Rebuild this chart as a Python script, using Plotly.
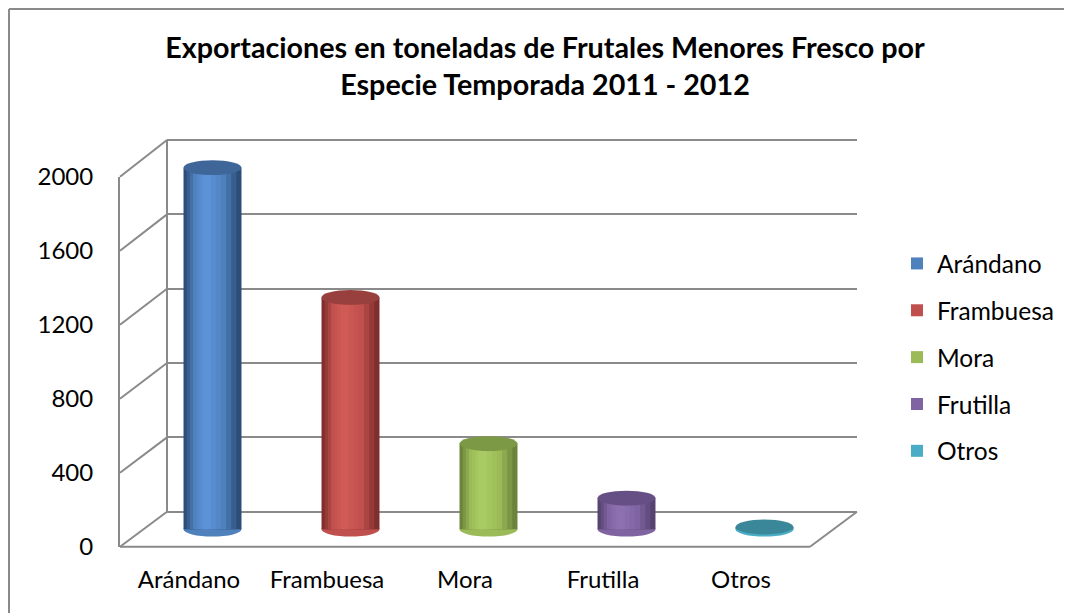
import plotly.graph_objects as go

# ---------------- data ----------------
categories = ["Arándano", "Frambuesa", "Mora", "Frutilla", "Otros"]
values = [1950, 1250, 462, 168, 12]
y_ticks = [0, 400, 800, 1200, 1600, 2000]
title_lines = ["Exportaciones en toneladas de Frutales Menores Fresco por",
               "Especie Temporada 2011 - 2012"]

# colour styles (edge, standard, highlight, top cap)
base_colors = ["#4F81BD", "#C0504D", "#9BBB59", "#8064A2", "#4BACC6"]
edge_colors = ["#2C4D78", "#7E2F2D", "#6B8439", "#56436F", "#2F7F95"]
light_colors = ["#5C92D8", "#D05A56", "#A9CB63", "#8C70B0", "#58BCD8"]
top_colors = ["#3E6698", "#98403D", "#7C9A45", "#654F85", "#3A8799"]

# ---------------- geometry (page pixels) ----------------
OFF = 8                      # default body margin of the html page
W, H = 1072 - OFF, 613 - OFF
FX0, FX1 = 120, 810          # front plane x extent
BX0, BX1 = 167, 857          # back wall x extent
FY0, FTOP = 546.7, 176.7     # front 0 / 2000
BY0, BTOP = 511.7, 140.0     # back 0 / 2000
MX0, MX1 = 143.5, 833.5      # mid-depth x extent
MY0 = 529.2
MSCALE = 0.1854              # px per unit (mid depth)
YMIN, YMAX = -200, 2200
BPAD = 50                    # back wall axis padding so edge gridlines draw

def px(x):
    return (x - OFF) / W

def py(y):
    return 1 - (y - OFF) / H

def front_y(v):
    return FY0 + (FTOP - FY0) * v / 2000.0

def back_y(v):
    return BY0 + (BTOP - BY0) * v / 2000.0

GRAY = "#8A8A8A"
FONT = "Lato"

fig = go.Figure()

# empty traces so the frame subplots are created
fig.add_trace(go.Scatter(x=[], y=[], xaxis="x", yaxis="y", showlegend=False, hoverinfo="skip"))
fig.add_trace(go.Scatter(x=[], y=[], xaxis="x2", yaxis="y2", showlegend=False, hoverinfo="skip"))

# ---------------- cylinders (banded bars for shading) ----------------
BW = 0.42
NB = 7

def mix(c1, c2, t):
    a = [int(c1[i:i + 2], 16) for i in (1, 3, 5)]
    b = [int(c2[i:i + 2], 16) for i in (1, 3, 5)]
    return "rgb(%d,%d,%d)" % tuple(round(a[j] + (b[j] - a[j]) * t) for j in range(3))

for k, (cat, v) in enumerate(zip(categories, values)):
    for i in range(NB):
        t = i / (NB - 1)
        if t <= 0.5:
            col = mix(edge_colors[k], base_colors[k], t / 0.5)
        else:
            col = mix(base_colors[k], light_colors[k], (t - 0.5) / 0.5)
        wi = BW * (1 - i / NB)
        shift = -0.12 * BW * (i / NB)
        fig.add_trace(go.Bar(
            x=[cat], y=[v], xaxis="x3", yaxis="y3",
            width=[wi], offset=[shift - wi / 2],
            marker=dict(color=base_colors[k] if i == NB // 2 else col, line=dict(width=0)),
            name=cat, legendgroup=cat, showlegend=(i == NB // 2),
            legendrank=k + 1, hoverinfo="skip",
        ))

# cylinder caps (ellipses) in data coordinates
HCAP = 40  # half height of caps in value units
shapes = []
for k, v in enumerate(values):
    shapes.append(dict(type="circle", xref="x3", yref="y3", layer="below",
                       x0=k - BW / 2, x1=k + BW / 2, y0=-HCAP, y1=HCAP,
                       fillcolor=base_colors[k], line=dict(width=0)))
    shapes.append(dict(type="circle", xref="x3", yref="y3", layer="above",
                       x0=k - BW / 2, x1=k + BW / 2, y0=v - HCAP, y1=v + HCAP,
                       fillcolor=top_colors[k], line=dict(width=0)))

# ---------------- 3D frame: floor, back wall edge, diagonals ----------------
def line(x0, y0, x1, y1):
    return dict(type="line", xref="paper", yref="paper", layer="below",
                x0=px(x0), y0=py(y0), x1=px(x1), y1=py(y1),
                line=dict(color=GRAY, width=2))

for v in y_ticks:
    shapes.append(line(FX0, front_y(v), BX0, back_y(v)))
shapes.append(line(BX0, BY0, BX0, BTOP))
shapes.append(line(FX0, FY0, FX1, FY0))
shapes.append(line(FX1, FY0, BX1, BY0))
# outer chart border (top and left)
shapes.append(dict(type="line", xref="paper", yref="paper", x0=px(9), y0=py(9),
                   x1=1.02, y1=py(9), line=dict(color=GRAY, width=2)))
shapes.append(dict(type="line", xref="paper", yref="paper", x0=px(9), y0=py(9),
                   x1=px(9), y1=-0.02, line=dict(color=GRAY, width=2)))

fig.update_layout(
    width=W, height=H,
    margin=dict(l=0, r=0, t=0, b=0, autoexpand=False),
    paper_bgcolor="white", plot_bgcolor="rgba(0,0,0,0)",
    barmode="overlay",
    font=dict(family=FONT, size=24, color="black"),
    title=dict(text="<b>" + title_lines[0] + "</b><br><b>" + title_lines[1] + "</b>",
               x=px(545), xanchor="center", y=py(58), yanchor="top",
               font=dict(family=FONT, size=28.7, color="black"), automargin=False),
    showlegend=True,
    legend=dict(x=px(897), xanchor="left", y=py(241), yanchor="top",
                font=dict(family=FONT, size=24.5, color="black"),
                tracegroupgap=12, traceorder="grouped", bgcolor="rgba(0,0,0,0)"),
    shapes=shapes,
    # front axis (tick labels)
    xaxis=dict(domain=[px(FX0), px(FX1)], range=[-0.5, 4.5], tickmode="array",
               tickvals=list(range(len(categories))), ticktext=categories,
               showgrid=False, zeroline=False, showline=False, ticks="",
               ticklabelstandoff=16, anchor="y", fixedrange=True, automargin=False),
    yaxis=dict(domain=[py(FY0), py(FTOP)], range=[0, 2000], tickmode="array",
               tickvals=y_ticks, showgrid=False, zeroline=False,
               showline=True, linecolor=GRAY, linewidth=2, ticks="",
               ticklabelstandoff=20, anchor="x", fixedrange=True, automargin=False),
    # back wall gridlines
    xaxis2=dict(domain=[px(BX0), px(BX1)], range=[0, 1], visible=False,
                anchor="y2", fixedrange=True, automargin=False),
    yaxis2=dict(domain=[py(back_y(-BPAD)), py(back_y(2000 + BPAD))],
                range=[-BPAD, 2000 + BPAD], tickmode="array",
                tickvals=y_ticks, showgrid=True, gridcolor=GRAY, gridwidth=2,
                zeroline=False, showticklabels=False, showline=False,
                anchor="x2", fixedrange=True, automargin=False),
    # mid-depth axes for the cylinders
    xaxis3=dict(domain=[px(MX0), px(MX1)], type="category",
                categoryorder="array", categoryarray=categories,
                range=[-0.5, 4.5], visible=False, anchor="y3", fixedrange=True,
                automargin=False),
    yaxis3=dict(domain=[py(MY0 - YMIN * MSCALE), py(MY0 - YMAX * MSCALE)],
                range=[YMIN, YMAX], visible=False, anchor="x3", fixedrange=True,
                automargin=False),
)

fig.write_html("out.html")
